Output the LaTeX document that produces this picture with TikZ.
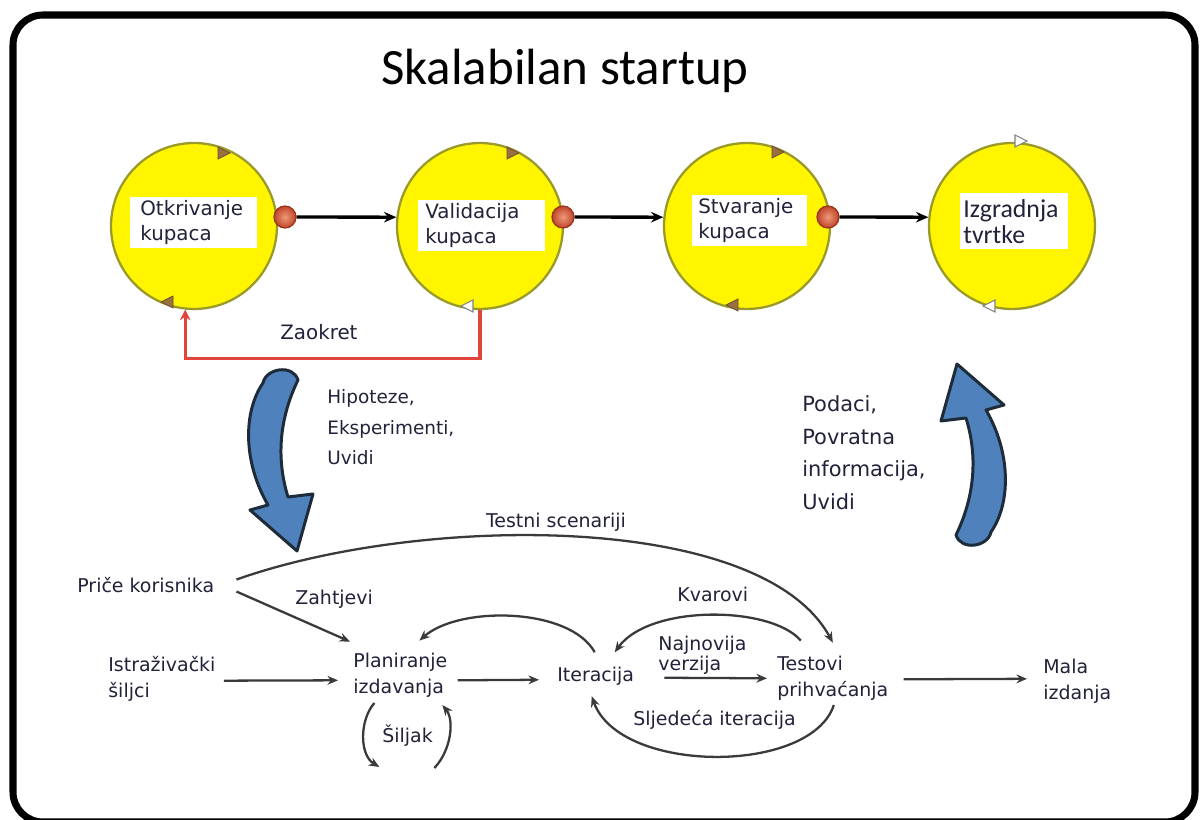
\documentclass[tikz,border=0pt]{standalone}
\usepackage{fontspec}
\setmainfont{DejaVu Sans}
\newfontfamily\carlito{Carlito}
\usetikzlibrary{arrows.meta}
\definecolor{cyel}{HTML}{FFF500}
\definecolor{colive}{HTML}{9A9A2A}
\definecolor{ctext}{HTML}{22223A}
\definecolor{cballi}{HTML}{EE9A78}
\definecolor{cballo}{HTML}{C0442A}
\definecolor{cballd}{HTML}{9A3418}
\definecolor{cred}{HTML}{E2443C}
\definecolor{cblue}{HTML}{4F81BD}
\definecolor{cblued}{HTML}{1E2C3A}
\definecolor{cflow}{HTML}{3A3A3A}
\definecolor{ctri}{HTML}{9A7040}
\definecolor{ctrid}{HTML}{6A5030}
\begin{document}
\begin{tikzpicture}[x=0.02cm, y=-0.02cm,
  circ/.style={circle, draw=colive, line width=1.3pt, fill=cyel, minimum size=3.32cm, inner sep=0pt},
  cbox/.style={fill=white, anchor=north west, align=left, inner ysep=0.06cm, text=ctext,
     font=\fontsize{11.3}{14.2}\selectfont},
  redball/.style={circle, minimum size=0.44cm, inner sep=0pt, inner color=cballi, outer color=cballo, draw=cballd, line width=0.7pt},
  topar/.style={line width=1.9pt, -{Stealth[length=7pt,width=6pt]}},
  lbl/.style={inner sep=0pt, text=ctext, align=left, font=\fontsize{10.8}{15}\selectfont},
  flow/.style={draw=cflow, line width=1.3pt, -{Stealth[length=6pt,width=5pt]}},
  tri/.style={fill=ctri, draw=ctrid, line width=0.5pt},
  trio/.style={fill=white, draw=gray, line width=0.6pt},
  barrow/.style={fill=cblue, draw=cblued, line width=1.7pt, line join=round},
  zk/.style={draw=cred, line width=1.8pt, -{Stealth[length=6pt,width=6pt]}}
]
\useasboundingbox (0,0) rectangle (1201,820);
\fill[white] (0,0) rectangle (1201,820);
% frame
\draw[line width=4pt, rounded corners=0.6cm] (13,15) rectangle (1195,822);

% title
\node[anchor=base, inner sep=0pt, font=\carlito\fontsize{29}{34}\selectfont] (title) at (565,85) {Skalabilan startup};

% circles
\node[circ] (c1) at (194,226) {};
\node[circ] (c2) at (480,226) {};
\node[circ] (c3) at (747,226) {};
\node[circ] (c4) at (1012,226) {};

% labels in circles
\node[cbox, inner xsep=0.2cm, text width=2.14cm] (l1) at (130,197) {Otkrivanje\\kupaca};
\node[cbox, inner xsep=0.14cm, text width=2.26cm] (l2) at (418,200) {Validacija\\kupaca};
\node[cbox, inner xsep=0.12cm, text width=2.06cm] (l3) at (692,195) {Stvaranje\\kupaca};
\node[cbox, inner xsep=0.06cm, inner ysep=0.12cm, text width=2.04cm, font=\carlito\fontsize{14.7}{14.7}\selectfont] (l4) at (960,193) {Izgradnja\\tvrtke};

% direction markers
\filldraw[tri] (223,153) +(-5,-6) -- +(7,0) -- +(-5,6) -- cycle;
\filldraw[tri] (168,302) +(5,-6) -- +(-7,0) -- +(5,6) -- cycle;
\filldraw[tri] (512,153) +(-5,-6) -- +(7,0) -- +(-5,6) -- cycle;
\filldraw[trio] (468,306) +(5,-6) -- +(-7,0) -- +(5,6) -- cycle;
\filldraw[tri] (777,152) +(-5,-6) -- +(7,0) -- +(-5,6) -- cycle;
\filldraw[tri] (733,305) +(5,-6) -- +(-7,0) -- +(5,6) -- cycle;
\filldraw[trio] (1020,141) +(-5,-6) -- +(7,0) -- +(-5,6) -- cycle;
\filldraw[trio] (990,306) +(5,-6) -- +(-7,0) -- +(5,6) -- cycle;

% red balls
\node[redball] (b1) at (285,217) {};
\node[redball] (b2) at (563,217) {};
\node[redball] (b3) at (828,217) {};

% top arrows
\draw[topar] (b1.east) -- (c2.174);
\draw[topar] (b2.east) -- (c3.174);
\draw[topar] (b3.east) -- (c4.174);

% Zaokret
\draw[zk] (c2.south) -- ++(0,48) -| (c1.264);
\node[lbl, anchor=base west, font=\fontsize{11.3}{14}\selectfont] (zaokret) at (280,340) {Zaokret};

% blue arrows
\filldraw[barrow] (263,383) .. controls (266,368) and (293,364) .. (298,380)
  .. controls (281,415) and (275,455) .. (288,497)
  -- (313,494) -- (297,551) -- (250,510) -- (268,505)
  .. controls (243,462) and (243,412) .. (263,383) -- cycle;
\begin{scope}[rotate around={180:(627,457.5)}]
\filldraw[barrow] (263,383) .. controls (266,368) and (293,364) .. (298,380)
  .. controls (281,415) and (275,455) .. (288,497)
  -- (313,494) -- (297,551) -- (250,510) -- (268,505)
  .. controls (243,462) and (243,412) .. (263,383) -- cycle;
\end{scope}

\node[lbl, anchor=north west, font=\fontsize{10.5}{17.5}\selectfont] (hyp) at (327,389) {Hipoteze,\\Eksperimenti,\\Uvidi};
\node[lbl, anchor=north west, font=\fontsize{11.9}{18.7}\selectfont] (data) at (802,395) {Podaci,\\Povratna\\informacija,\\Uvidi};

% lower diagram nodes
\node[lbl, anchor=base west] (pk) at (77,593) {Priče korisnika};
\node[lbl, anchor=north west] (isk) at (108,655.6) {Istraživački\\šiljci};
\node[lbl, anchor=north west] (plan) at (353,652.6) {Planiranje\\izdavanja};
\node[lbl, anchor=base west] (iter) at (557,682) {Iteracija};
\node[lbl, anchor=north west] (test) at (777,655.6) {Testovi\\prihvaćanja};
\node[lbl, anchor=north west] (mala) at (1043,658.6) {Mala\\izdanja};

% lower labels
\node[lbl, anchor=base] (ts) at (556,528) {Testni scenariji};
\node[lbl, anchor=base west] (zah) at (295,605) {Zahtjevi};
\node[lbl, anchor=base west] (kv) at (677,602) {Kvarovi};
\node[lbl, anchor=north west, font=\fontsize{10.8}{11.3}\selectfont] (nv) at (658,636) {Najnovija\\verzija};
\node[lbl, anchor=base west] (sl) at (633,726) {Sljedeća iteracija};
\node[lbl, anchor=base west] (sp) at (382,743) {Šiljak};

% lower connectors
\draw[flow] ([shift={(22,-6)}]pk.east) .. controls +(183,-65) and +(-72,-132) .. ([shift={(0,-13)}]test.north);
\draw[flow] ([shift={(22,6)}]pk.east) -- ([shift={(-3,-11)}]plan.north west);
\draw[flow] ([shift={(8,2)}]isk.east) -- ([shift={(-15,5)}]plan.west);
\draw[flow] ([shift={(10,5)}]plan.east) -- ([shift={(-18,3)}]iter.west);
\draw[flow] ([shift={(30,1)}]iter.east) -- ([shift={(-10,0)}]test.west);
\draw[flow] ([shift={(15,1)}]test.east) -- ([shift={(-16,-2.5)}]mala.west);
\draw[flow] ([shift={(-1,-15)}]iter.north) .. controls +(-25,-45) and +(40,-35) .. ([shift={(19,-12)}]plan.north);
\draw[flow] ([shift={(-32,-15)}]test.north) .. controls +(-30,-35) and +(35,-48) .. ([shift={(19,-15)}]iter.north);
\draw[flow] ([shift={(1,4)}]test.south) .. controls +(-23,70) and +(28,78) .. ([shift={(-4,10)}]iter.south);
\draw[flow] ([shift={(-26,5)}]plan.south) .. controls +(-15,17) and +(-20,-12) .. ([shift={(-21,69)}]plan.south);
\draw[flow] ([shift={(34,70)}]plan.south) .. controls +(17,-18) and +(12,15) .. ([shift={(42,7)}]plan.south);
\end{tikzpicture}
\end{document}
